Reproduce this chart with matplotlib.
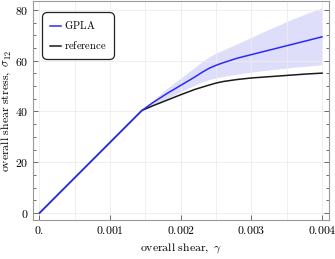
import matplotlib
matplotlib.use("Agg")
import matplotlib.pyplot as plt
from matplotlib.ticker import MultipleLocator

plt.rcParams['mathtext.fontset'] = 'cm'
plt.rcParams['font.family'] = 'serif'
plt.rcParams['font.serif'] = ['DejaVu Serif']

# data
ref_x = [0.0, 0.00145, 0.0016, 0.0018, 0.002, 0.0022, 0.0024, 0.0025, 0.0026, 0.0028, 0.003, 0.0032, 0.0034, 0.0036, 0.0038, 0.004]
ref_y = [0.0, 40.4, 42.2, 44.4, 46.6, 48.7, 50.4, 51.2, 51.8, 52.6, 53.2, 53.6, 54.0, 54.4, 54.8, 55.1]

gpla_x = [0.0, 0.00145, 0.0016, 0.0018, 0.002, 0.0022, 0.0023, 0.0024, 0.0025, 0.0026, 0.0028, 0.003, 0.0032, 0.0034, 0.0036, 0.0038, 0.004]
gpla_y = [0.0, 40.4, 43.4, 47.0, 50.3, 53.6, 55.4, 57.0, 58.2, 59.2, 61.0, 62.4, 63.8, 65.2, 66.6, 68.0, 69.4]
gpla_hi = [0.0, 40.4, 44.2, 49.0, 53.2, 57.4, 59.6, 61.5, 63.0, 64.2, 66.7, 69.2, 71.8, 74.2, 76.6, 78.8, 80.8]
gpla_lo = [0.0, 40.4, 42.6, 45.0, 47.8, 50.4, 51.6, 52.6, 53.3, 53.8, 54.7, 55.5, 56.2, 56.8, 57.4, 57.9, 58.4]

xticks = [0.0, 0.001, 0.002, 0.003, 0.004]
xticklabels = ['0.', '0.001', '0.002', '0.003', '0.004']
yticks = [0, 20, 40, 60, 80]

fig = plt.figure(figsize=(3.35, 2.59), dpi=100)
ax = fig.add_axes([0.0985, 0.151, 0.884, 0.845])

blue = '#2b2bf5'
ax.fill_between(gpla_x, gpla_lo, gpla_hi, color='#dedefa', lw=0, zorder=1)
ax.plot(gpla_x, gpla_y, color=blue, lw=1.1, label='GPLA', zorder=3)
ax.plot(ref_x, ref_y, color='#1a1a1a', lw=1.1, label='reference', zorder=2)

ax.set_xlim(-0.000092, 0.0041)
ax.set_ylim(-2.7, 83.5)

ax.set_xticks(xticks)
ax.set_xticklabels(['$' + s + '$' for s in xticklabels])
ax.set_yticks(yticks)
ax.set_yticklabels(['$%d$' % v for v in yticks])
ax.yaxis.set_minor_locator(MultipleLocator(5))
ax.xaxis.set_minor_locator(MultipleLocator(0.0005))

ax.tick_params(which='both', direction='in', labelsize=8.5, color='#555555', width=0.6, pad=3)
ax.tick_params(which='major', length=3.5)
ax.tick_params(which='minor', length=2)
ax.tick_params(axis='x', which='minor', length=0)
ax.tick_params(axis='y', which='both', right=True)

ax.grid(True, which='major', axis='y', color='#ececec', lw=0.6, zorder=0)
ax.grid(True, which='both', axis='x', color='#ececec', lw=0.6, zorder=0)
for s in ax.spines.values():
    s.set_color('#999999')
    s.set_linewidth(0.8)

ax.set_xlabel(r'$\mathrm{overall\ shear,}\ \gamma$', fontsize=8.5, labelpad=3)
ax.set_ylabel(r'$\mathrm{overall\ shear\ stress,}\ \bar{\sigma}_{12}$', fontsize=8.5, labelpad=2)

leg = ax.legend(loc='upper left', bbox_to_anchor=(0.03, 0.952), fontsize=7.6,
                handlelength=1.05, handletextpad=0.3, borderpad=0.75,
                labelspacing=0.75, fancybox=True, framealpha=1,
                borderaxespad=0.0)
leg.get_frame().set_edgecolor('#222222')
leg.get_frame().set_linewidth(0.9)
leg.get_frame().set_boxstyle('round,pad=0,rounding_size=0.5')
for t in leg.get_texts():
    t.set_text('$\\mathrm{' + t.get_text() + '}$')

fig.savefig('out.png', dpi=100)
